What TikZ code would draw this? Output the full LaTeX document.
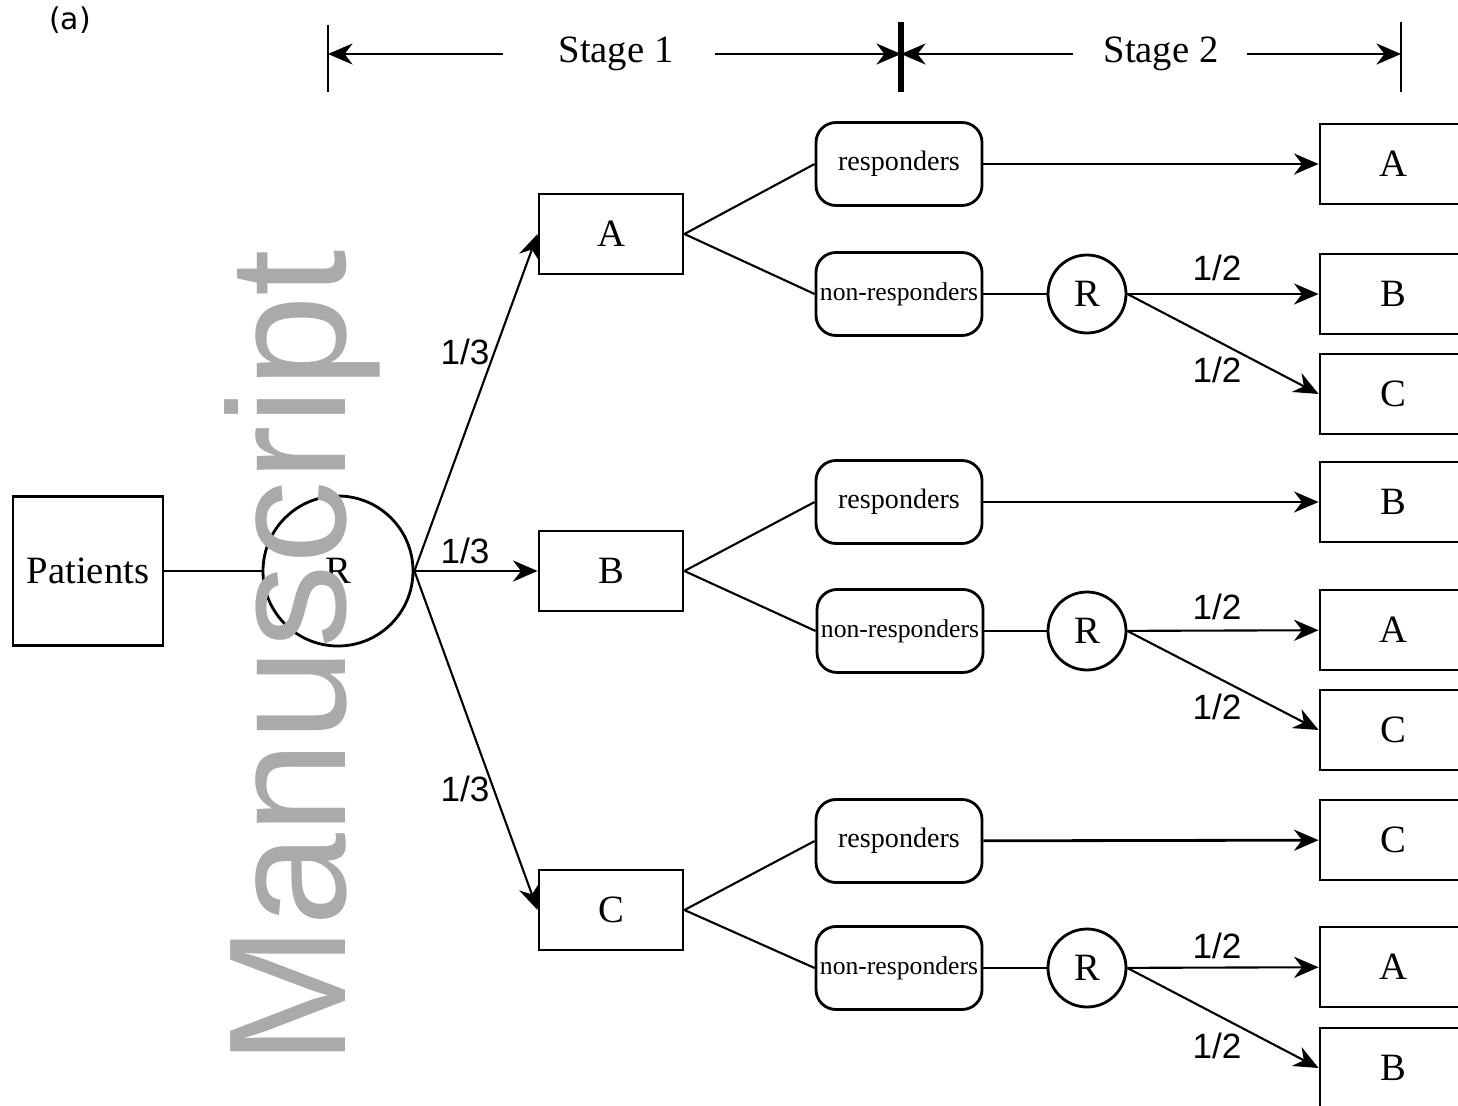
\documentclass[tikz,border=0pt]{standalone}
\usepackage{fontspec}
\setmainfont{Liberation Serif}
\setsansfont{Liberation Sans}
\newfontfamily\panelfont{DejaVu Sans}
\usetikzlibrary{arrows.meta}
\definecolor{wmgray}{RGB}{170,170,170}

\begin{document}
\begin{tikzpicture}[semithick,
	trt/.style={draw,thick,minimum width=1.44cm,minimum height=0.80cm,inner sep=0pt,font=\fontsize{11}{13}\selectfont},
	resp/.style={draw,thick,rounded corners=0.2cm,minimum width=1.66cm,minimum height=0.83cm,inner sep=0pt},
	rnd/.style={draw,thick,circle,inner sep=0pt,font=\fontsize{11}{13}\selectfont},
	prob/.style={font=\sffamily\fontsize{10}{12}\selectfont,inner sep=0pt},
	stagelbl/.style={inner sep=0pt,font=\fontsize{11}{13}\selectfont},
	arr/.style={-{Stealth[length=7pt,width=6pt]}}]
		\useasboundingbox (0,0) rectangle (14.58,-11.06);
		\clip (0,0) rectangle (14.58,-11.06);
		%
		\node[font=\panelfont\fontsize{8.5}{10}\selectfont] (panel) at (0.70,-0.20) {(a)};
		%
		\coordinate (t0) at (3.28,-0.54);
		\coordinate (t1) at (9.01,-0.54);
		\coordinate (t2) at (14.01,-0.54);
		\draw[thick] (3.28,-0.25) -- (3.28,-0.92);
		\draw[line width=1.5pt] (9.01,-0.22) -- (9.01,-0.92);
		\draw[thick] (14.01,-0.22) -- (14.01,-0.92);
		\node[stagelbl] (s1) at (6.16,-0.54) {Stage 1};
		\node[stagelbl] (s2) at (11.61,-0.54) {Stage 2};
		\draw[arr,shorten <=0.55cm] (s1.west) -- (t0);
		\draw[arr,shorten <=0.40cm] (s1.east) -- (t1);
		\draw[arr,shorten <=0.30cm] (s2.west) -- (t1);
		\draw[arr,shorten <=0.27cm] (s2.east) -- (t2);
		%
		\node[trt,minimum width=1.50cm,minimum height=1.49cm] (pat) at (0.88,-5.71) {Patients};
		\node[rnd,minimum size=1.50cm] (r0) at (3.38,-5.71) {R};
		\draw (pat) -- (r0);
		%
		\node[trt] (a1) at (6.11,-2.34) {A};
		\node[trt] (b1) at (6.11,-5.71) {B};
		\node[trt] (c1) at (6.11,-9.10) {C};
		\draw[arr] (r0.east) -- (a1.west);
		\draw[arr] (r0.east) -- (b1.west);
		\draw[arr] (r0.east) -- (c1.west);
		\node[prob] (pa) at (4.65,-3.52) {1/3};
		\node[prob] (pb) at (4.65,-5.51) {1/3};
		\node[prob] (pc) at (4.65,-7.89) {1/3};
		%
		\node[resp,font=\fontsize{8}{10}\selectfont] (ra) at (8.99,-1.64) {responders};
		\node[resp,font=\fontsize{7.3}{9}\selectfont] (na) at (8.99,-2.94) {non-responders};
		\node[resp,font=\fontsize{8}{10}\selectfont] (rb) at (8.99,-5.02) {responders};
		\node[resp,font=\fontsize{7.3}{9}\selectfont] (nb) at (9.00,-6.31) {non-responders};
		\node[resp,font=\fontsize{8}{10}\selectfont] (rc) at (8.99,-8.41) {responders};
		\node[resp,font=\fontsize{7.3}{9}\selectfont] (nc) at (8.99,-9.68) {non-responders};
		\draw (a1.east) -- (ra.west);   \draw (a1.east) -- (na.west);
		\draw (b1.east) -- (rb.west);   \draw (b1.east) -- (nb.west);
		\draw (c1.east) -- (rc.west);   \draw (c1.east) -- (nc.west);
		%
		\node[rnd,minimum size=0.78cm] (ga) at (10.87,-2.94) {R};
		\node[rnd,minimum size=0.78cm] (gb) at (10.87,-6.31) {R};
		\node[rnd,minimum size=0.78cm] (gc) at (10.87,-9.68) {R};
		\draw (na) -- (ga);
		\draw (nb) -- (gb);
		\draw (nc) -- (gc);
		%
		\node[trt,minimum width=1.46cm] (aa) at (13.93,-1.64) {A};
		\node[trt,minimum width=1.46cm] (ab) at (13.93,-2.94) {B};
		\node[trt,minimum width=1.46cm] (ac) at (13.93,-3.94) {C};
		\node[trt,minimum width=1.46cm] (ba) at (13.93,-5.02) {B};
		\node[trt,minimum width=1.46cm] (bb) at (13.93,-6.30) {A};
		\node[trt,minimum width=1.46cm] (bc) at (13.93,-7.30) {C};
		\node[trt,minimum width=1.46cm] (ca) at (13.93,-8.40) {C};
		\node[trt,minimum width=1.46cm] (cb) at (13.93,-9.67) {A};
		\node[trt,minimum width=1.46cm] (cc) at (13.93,-10.68) {B};
		%
		\draw[arr] (ra) -- (aa);
		\draw[arr] (ga) -- (ab);
		\draw[arr] (ga.east) -- (ac.west);
		\draw[arr] (rb) -- (ba);
		\draw[arr] (gb) -- (bb);
		\draw[arr] (gb.east) -- (bc.west);
		\draw[arr,thick] (rc) -- (ca);
		\draw[arr] (gc) -- (cb);
		\draw[arr] (gc.east) -- (cc.west);
		%
		\node[prob] (qa1) at (12.17,-2.68) {1/2};   \node[prob] (qa2) at (12.17,-3.70) {1/2};
		\node[prob] (qb1) at (12.17,-6.07) {1/2};   \node[prob] (qb2) at (12.17,-7.07) {1/2};
		\node[prob] (qc1) at (12.17,-9.46) {1/2};   \node[prob] (qc2) at (12.17,-10.46) {1/2};
		%
		\node[rotate=90,anchor=base west,inner sep=0pt,text=wmgray,font=\sffamily\fontsize{47.5}{50}\selectfont] (wm) at (3.45,-10.67) {Manuscript};
		%
\end{tikzpicture}
\end{document}
